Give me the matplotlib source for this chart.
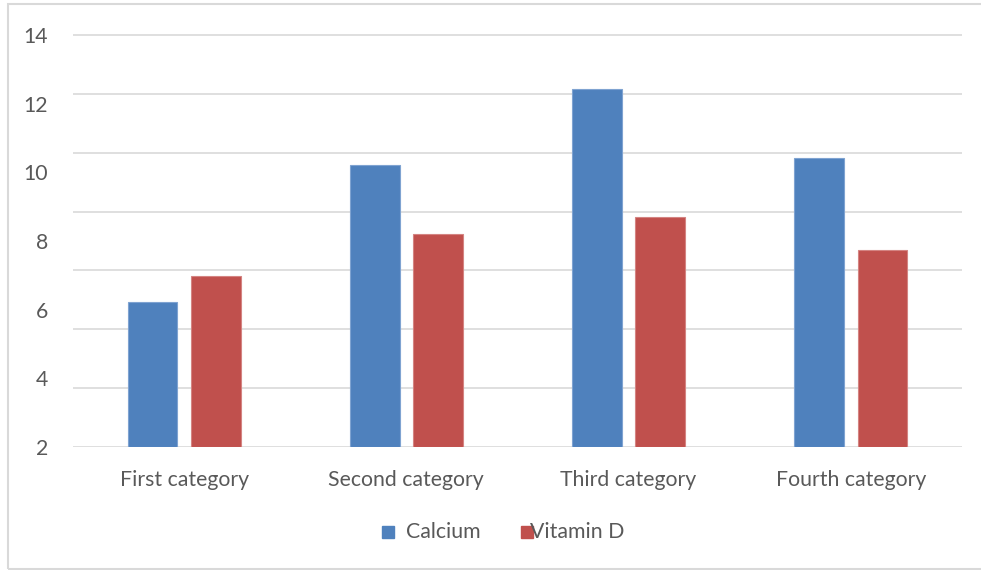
import matplotlib.pyplot as plt
import numpy as np
from matplotlib.patches import Rectangle

# chart data
categories = ['First category', 'Second category', 'Third category', 'Fourth category']
calcium = [4.92, 9.59, 12.17, 9.82]
vitamin_d = [5.82, 7.24, 7.81, 6.68]

# axis labels (spread evenly over the value range, gridlines every 2 units)
tick_labels = [2, 4, 6, 8, 10, 12, 14]
grid_values = [0, 2, 4, 6, 8, 10, 12, 14]

BLUE = '#4f81bd'
RED = '#c0504d'
TEXT = '#595959'
GRID = '#d9d9d9'
FS = 15.3

plt.rcParams['font.family'] = ['Lato', 'DejaVu Sans']

fig = plt.figure(figsize=(9.81, 5.70), dpi=100)
ax = fig.add_axes([73 / 981, 1 - 446.7 / 570, 889 / 981, 412.4 / 570])

x = np.arange(len(categories))
width = 0.2236
offset = 0.1426
ax.bar(x - offset, calcium, width, color=BLUE, edgecolor='#7fa3d1', linewidth=0.8, zorder=3)
ax.bar(x + offset, vitamin_d, width, color=RED, edgecolor='#d48482', linewidth=0.8, zorder=3)

ax.set_xlim(-0.5, len(categories) - 0.5)
ax.set_ylim(0, 14.03)

# gridlines on minor ticks, labels on major ticks
ax.yaxis.remove_overlapping_locs = False
ax.set_yticks(grid_values, minor=True)
ax.yaxis.grid(True, which='minor', color=GRID, linewidth=1.2)
ax.set_yticks([(v - 2) * 14 / 12 for v in tick_labels])
ax.set_yticklabels([str(v) for v in tick_labels])
ax.tick_params(axis='y', which='both', length=0, pad=18, labelsize=FS, labelcolor=TEXT)
ax.set_axisbelow(True)

ax.set_xticks(x)
ax.set_xticklabels(categories)
ax.tick_params(axis='x', length=0, pad=17, labelsize=FS, labelcolor=TEXT)

for s in ax.spines.values():
    s.set_visible(False)

# legend drawn by hand below the plot
fig.patches.append(Rectangle((382 / 981, 1 - 538 / 570), 12 / 981, 12 / 570,
                             transform=fig.transFigure, color=BLUE))
fig.text(406 / 981, 1 - 532 / 570, 'Calcium', fontsize=FS, color=TEXT, va='center')
fig.patches.append(Rectangle((521 / 981, 1 - 538 / 570), 12 / 981, 12 / 570,
                             transform=fig.transFigure, color=RED))
fig.text(530 / 981, 1 - 532 / 570, 'Vitamin D', fontsize=FS, color=TEXT, va='center')

# outer chart border
fig.patches.append(Rectangle((8 / 981, 1 - 569 / 570), 1.0, 565 / 570,
                             transform=fig.transFigure, fill=False,
                             edgecolor=GRID, linewidth=1.5))

fig.savefig('out.png', dpi=100)
